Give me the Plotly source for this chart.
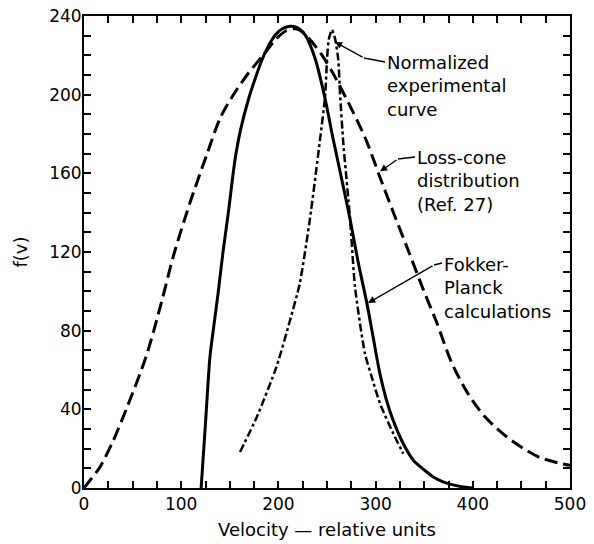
import plotly.graph_objects as go

# ---- data ----
loss_cone_v = [0, 8, 16.5, 30, 44, 64, 80, 92, 109, 126, 140, 155, 170, 185, 198, 208, 218, 227, 235, 245,
               256, 277, 291, 304.5, 318, 335, 349, 363, 378, 395, 412, 430, 447, 469, 491, 500]
loss_cone_f = [0, 5, 10.7, 24, 40.7, 67, 95, 118, 145, 169, 188, 201, 211.5, 220.5, 228.5, 232.5, 233.5, 231, 226.5, 220,
               211, 191, 176, 158, 140.5, 119, 101, 84, 64, 48, 36.5, 28, 21.7, 15.5, 12.4, 11.5]

fp_v = [120.5, 125, 129.6, 134, 138.2, 143, 148.5, 155.3, 161, 169, 176, 183, 190, 197, 204, 212, 220, 228,
        238, 248, 256.5, 266, 274, 282, 291, 297, 304.5, 311, 318, 328, 339, 350, 359.4, 370, 383, 395, 400]
fp_f = [0, 33, 66.7, 84, 100, 120, 140, 166.7, 182, 197.3, 208, 217.6, 225, 230.5, 233.5, 234.8, 234, 230,
        218, 198, 177, 155, 136, 115, 94, 78, 58, 45, 34.5, 23, 14, 9.2, 5.6, 3, 1.2, 0.2, 0]

exp_v = [160.5, 177.7, 198, 212, 222, 232.5, 242.8, 248, 250, 251.8, 255, 258.3, 261.6, 263.4,
         266.8, 273.7, 278.8, 289, 296, 304.5, 318.2, 328.5]
exp_f = [18.3, 36, 61.6, 85.3, 104, 137, 177, 199, 217.7, 228, 233, 228.5, 217.7, 200.7,
         175.3, 137, 102.3, 68.4, 56.5, 43, 27.7, 17.5]

x_tick_vals = list(range(0, 501, 25))
x_tick_text = [str(v) if v % 100 == 0 else "" for v in x_tick_vals]
y_tick_vals = list(range(0, 241, 10))
y_tick_text = [str(v) if v % 40 == 0 else "" for v in y_tick_vals]

label_texts = ["Normalized<br>experimental<br>curve",
               "Loss-cone<br>distribution<br>(Ref. 27)",
               "Fokker-<br>Planck<br>calculations"]

FONT = "DejaVu Sans"
W, H = 594, 544
ML, MR, MT, MB = 84, 24, 16, 56
XR, YR = (0, 500), (0, 240)


def dx(px):
    return XR[0] + (px - ML) / (W - ML - MR) * (XR[1] - XR[0])


def dy(py):
    return YR[0] + (H - MB - py) / (H - MT - MB) * (YR[1] - YR[0])


fig = go.Figure()
fig.add_trace(go.Scatter(x=loss_cone_v, y=loss_cone_f, mode="lines",
                         line=dict(color="black", width=3, dash="13px,6px", shape="spline", smoothing=0.8),
                         name="Loss-cone distribution"))
fig.add_trace(go.Scatter(x=fp_v, y=fp_f, mode="lines",
                         line=dict(color="black", width=3, shape="spline", smoothing=0.8),
                         name="Fokker-Planck calculations"))
fig.add_trace(go.Scatter(x=exp_v, y=exp_f, mode="lines",
                         line=dict(color="black", width=2.5, dash="8px,3px,3px,3px", shape="spline", smoothing=0.6),
                         name="Normalized experimental curve"))

axis_common = dict(showline=True, linecolor="black", linewidth=2, mirror="ticks",
                   ticks="inside", ticklen=7, tickwidth=1.5, tickcolor="black",
                   showgrid=False, zeroline=False, automargin=False,
                   tickfont=dict(family=FONT, size=17, color="black"))

fig.update_xaxes(range=list(XR), tickvals=x_tick_vals, ticktext=x_tick_text, ticklabelstandoff=0,
                 title=dict(text="Velocity — relative units", font=dict(family=FONT, size=18, color="black"), standoff=10),
                 **axis_common)
fig.update_yaxes(range=list(YR), tickvals=y_tick_vals, ticktext=y_tick_text, ticklabelstandoff=-3,
                 title=dict(text="f(v)", font=dict(family=FONT, size=18, color="black"), standoff=17),
                 **axis_common)

ann_font = dict(family=FONT, size=18, color="black")

# leader lines: (text-left px, bend px, arrow tip px)
leaders = [
    ((385, 62), (364, 58), (335, 42)),
    ((415, 157), (398, 159), (380, 171.5)),
    ((442, 263), (434, 265), (368, 303)),
]
for (t, b, tip) in leaders:
    fig.add_shape(type="line", xref="x", yref="y", x0=dx(t[0]), y0=dy(t[1]), x1=dx(b[0]), y1=dy(b[1]),
                  line=dict(color="black", width=1.3))
    fig.add_annotation(x=dx(tip[0]), y=dy(tip[1]), xref="x", yref="y",
                       ax=dx(b[0]), ay=dy(b[1]), axref="x", ayref="y", text="",
                       showarrow=True, arrowhead=2, arrowsize=1.1, arrowwidth=1.3, arrowcolor="black")

# text blocks (left px, top px)
text_pos = [(386, 51), (416, 146), (443, 253)]
for txt, (lx, ty) in zip(label_texts, text_pos):
    fig.add_annotation(x=dx(lx), y=dy(ty), xref="x", yref="y", text=txt, showarrow=False,
                       xanchor="left", yanchor="top", align="left", font=ann_font,
                       borderpad=0)

fig.update_layout(width=W, height=H, margin=dict(l=ML, r=MR, t=MT, b=MB),
                  plot_bgcolor="white", paper_bgcolor="white", showlegend=False,
                  font=dict(family=FONT, color="black"))

fig.write_html("out.html")
